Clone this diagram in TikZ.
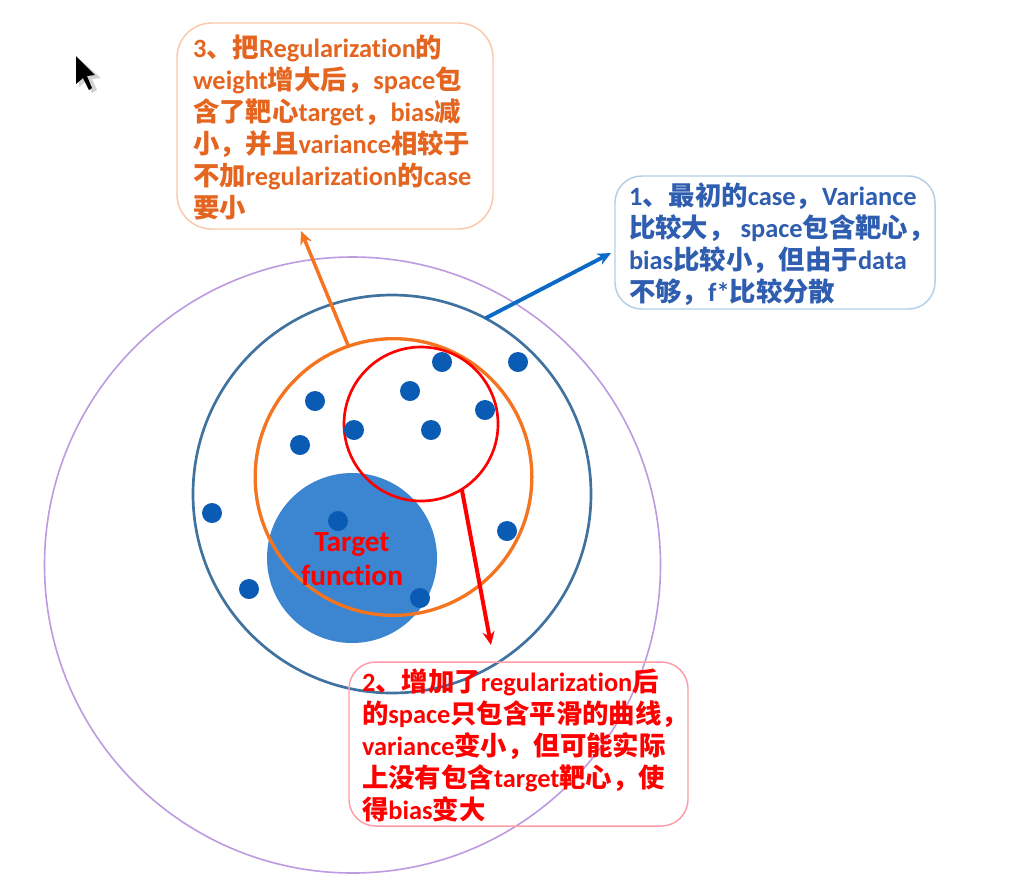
\documentclass[tikz,border=0pt]{standalone}
\usepackage{fontspec}
\setmainfont[Ligatures={NoCommon,NoContextual},RawFeature={-liga;-clig;-dlig}]{Carlito}
\newfontfamily\cjk{Noto Sans CJK SC}
\newcommand{\K}[1]{{\cjk\bfseries #1}}
\definecolor{cOrange}{HTML}{E4651F}
\definecolor{cOrangeB}{HTML}{FAC8AC}
\definecolor{cOrangeR}{HTML}{F4741F}
\definecolor{cBlue}{HTML}{2F5DB0}
\definecolor{cBlueB}{HTML}{B5CFE6}
\definecolor{cRedB}{HTML}{FF9CA8}
\definecolor{cNavy}{HTML}{3F729F}
\definecolor{cTarget}{HTML}{3C85D1}
\definecolor{cDot}{HTML}{0A5BB3}
\definecolor{cPurple}{HTML}{BC9BE0}
\definecolor{cArrow}{HTML}{0A6AC6}
\tikzset{
  x=0.75pt,y=-0.75pt,
  ring/.style={circle,inner sep=0pt,outer sep=0pt},
  dot/.style={circle,fill=cDot,inner sep=0pt,outer sep=0pt,minimum size=15pt},
  note/.style={draw,rounded corners=20pt,line width=1.1pt,inner sep=0pt,outer sep=0pt,anchor=north west},
  notetext/.style={anchor=north west,align=left,inner sep=0pt,outer sep=0pt,font=\bfseries\fontsize{19.8}{24}\selectfont},
  tip/.style={-{Stealth[length=10pt,width=9pt]},line width=2.2pt},
}
\usetikzlibrary{arrows.meta}
\begin{document}
\begin{tikzpicture}
\useasboundingbox (0,0) rectangle (1012,894);
\fill[white] (0,0) rectangle (1012,894);
% cursor
\fill[gray!35] (79,59) -- (79,87) -- (86,81) -- (92,93) -- (97,90) -- (92,79) -- (101,78) -- cycle;
\fill[black] (76,56) -- (76,84) -- (83,78) -- (89,90) -- (92,88) -- (87,76) -- (95,75) -- cycle;
% rings
\node[ring,draw=cPurple,line width=1.2pt,minimum size=462pt] (universe) at (352.5,565) {};
\node[ring,draw=cNavy,line width=2pt,minimum size=298.5pt] (hypo) at (392,494) {};
\node[ring,fill=cTarget,minimum size=127.5pt] (target) at (352,558) {};
\node[ring,draw=cOrangeR,line width=2.5pt,minimum size=207.5pt] (reg) at (393.5,477) {};
\node[ring,draw=red,line width=2pt,minimum size=115.5pt] (small) at (421,424) {};
% dots
\node[dot] (d1) at (442,362) {};
\node[dot] (d2) at (518,362) {};
\node[dot] (d3) at (410,391) {};
\node[dot] (d4) at (315,401) {};
\node[dot] (d5) at (485,410) {};
\node[dot] (d6) at (354,430) {};
\node[dot] (d7) at (431,430) {};
\node[dot] (d8) at (300,445) {};
\node[dot] (d9) at (212,513) {};
\node[dot] (d10) at (338,521) {};
\node[dot] (d11) at (507,531) {};
\node[dot] (d12) at (249,589) {};
\node[dot] (d13) at (420,598) {};
\node[align=center,text=red,inner sep=0pt,font=\bfseries\fontsize{22}{25.5}\selectfont] (tlabel) at (352,559) {Target\\function};
% note boxes
\draw[note,draw=cOrangeB,rounded corners=26pt] (177,23) rectangle (493,229);
\coordinate (box3tip) at (301,231);
\draw[note,draw=cBlueB] (615,176) rectangle (935,309);
\coordinate (box1tip) at (611,253);
\draw[note,draw=cRedB] (349,662) rectangle (688,826);
\coordinate (box2tip) at (491,645);
\node[notetext,text=cOrange] (t3) at (193,35) {3\K{、把}Regularization\K{的}\\weight\K{增大后，}space\K{包}\\\K{含了靶心}target\K{，}bias\K{减}\\\K{小，并且}variance\K{相较于}\\\K{不加}regularization\K{的}case\\\K{要小}};
\node[notetext,text=cBlue] (t1) at (629,183) {1\K{、最初的}case\K{，}Variance\\\K{比较大，} space\K{包含靶心，}\\bias\K{比较小，但由于}data\\\K{不够，}f*\K{比较分散}};
\node[notetext,text=red] (t2) at (362,669) {2\K{、增加了}regularization\K{后}\\\K{的}space\K{只包含平滑的曲线，}\\variance\K{变小，但可能实际}\\\K{上没有包含}target\K{靶心，使}\\\K{得}bias\K{变大}};
% connectors
\draw[tip,draw=cOrangeR,line width=2.6pt] (reg.109) -- (box3tip);
\draw[tip,draw=cArrow,line width=2.9pt] (hypo.62) -- (box1tip);
\draw[tip,draw=red,line width=3pt] (small.-58) -- (box2tip);
\end{tikzpicture}
\end{document}
